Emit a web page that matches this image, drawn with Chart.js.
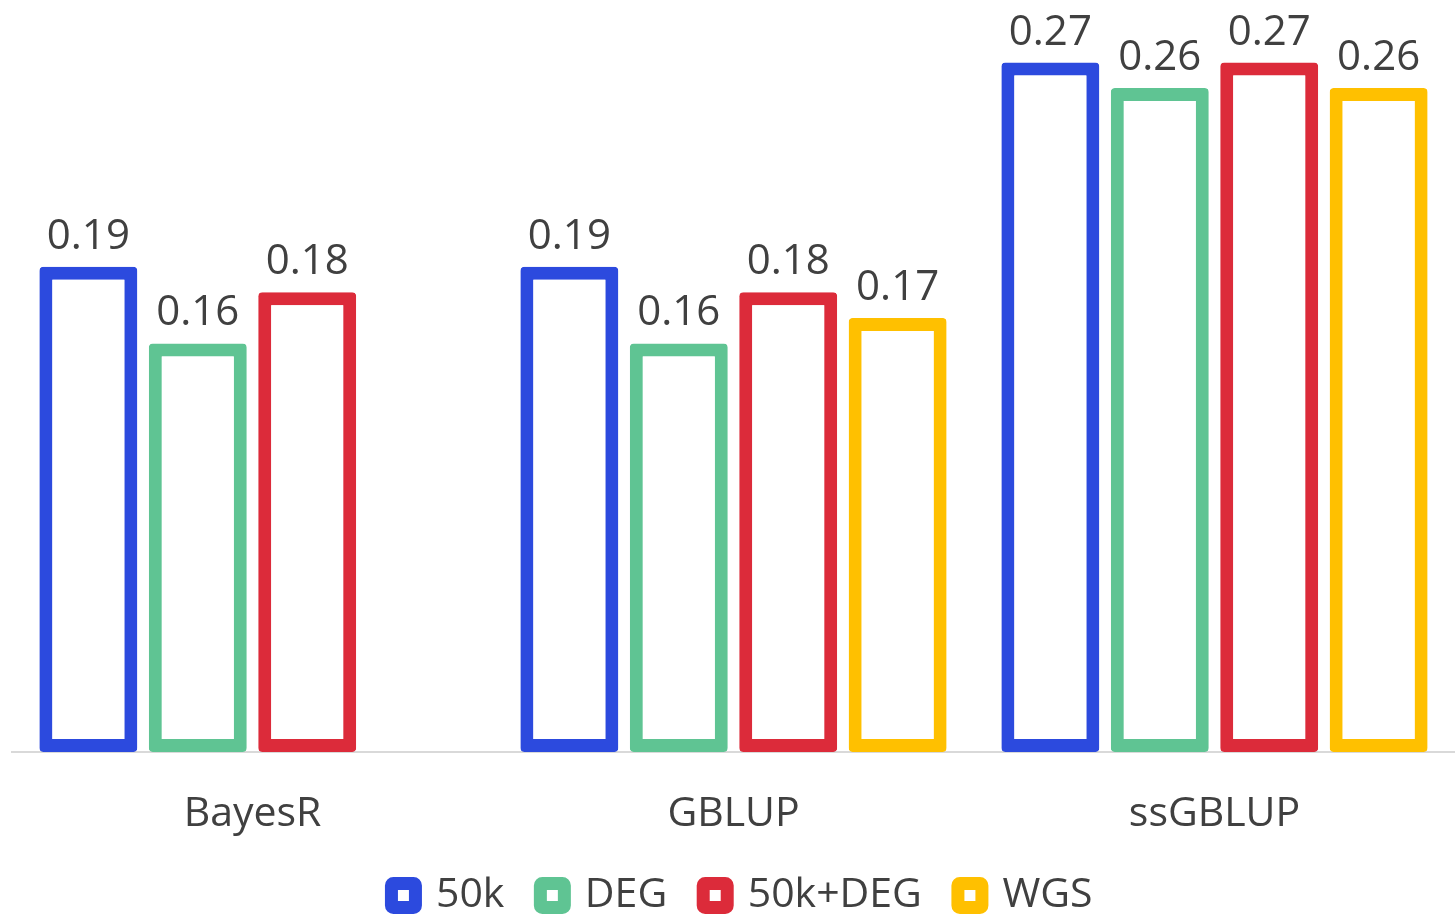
<!DOCTYPE html>
<html>
<head>
<meta charset="utf-8">
<script src="https://cdn.jsdelivr.net/npm/chart.js@4/dist/chart.umd.min.js"></script>
<style>
  html, body { margin: 0; padding: 0; background: #fff; overflow: hidden; }
  #wrap { width: 1455px; height: 914px; }
</style>
</head>
<body>
<div id="wrap"><canvas id="grafica"></canvas></div>
<script>
var categorias = ['BayesR', 'GBLUP', 'ssGBLUP'];
var serie50k = [0.19, 0.19, 0.27];
var serieDEG = [0.16, 0.16, 0.26];
var serie50kDEG = [0.18, 0.18, 0.27];
var serieWGS = [null, 0.17, 0.26];

var fuente = "'Open Sans', 'Noto Sans', sans-serif";
var gris = '#404040';
var altoLeyenda = 76;
var altoEjeX = 86;
var desplazaLeyenda = { x: 7, y: 1 };

// etiquetas encima de cada barra
var etiquetas = {
  id: 'etiquetas',
  afterDatasetsDraw: function (chart) {
    var ctx = chart.ctx;
    ctx.save();
    ctx.font = '42px ' + fuente;
    ctx.fillStyle = gris;
    ctx.textAlign = 'center';
    ctx.textBaseline = 'alphabetic';
    chart.data.datasets.forEach(function (ds, i) {
      var meta = chart.getDatasetMeta(i);
      meta.data.forEach(function (bar, j) {
        var v = ds.data[j];
        if (v === null) return;
        ctx.fillText(v.toFixed(2), bar.x, bar.y - 18);
      });
    });
    ctx.restore();
  }
};

// leyenda mas baja que la que calcula chart.js
var ajusteLeyenda = {
  id: 'ajusteLeyenda',
  beforeLayout: function (chart) {
    var leyenda = chart.legend;
    if (!leyenda || leyenda._ajustada) return;
    leyenda._ajustada = true;
    var fitOriginal = leyenda.fit;
    leyenda.fit = function () {
      fitOriginal.call(this);
      this.height = altoLeyenda;
    };
    var drawOriginal = leyenda.draw;
    leyenda.draw = function () {
      var c = this.ctx;
      c.save();
      c.translate(desplazaLeyenda.x, desplazaLeyenda.y);
      drawOriginal.apply(this, arguments);
      c.restore();
    };
  }
};

function serie(nombre, datos, colorBorde) {
  return {
    label: nombre,
    data: datos,
    backgroundColor: '#ffffff',
    borderColor: colorBorde,
    borderWidth: 13,
    borderSkipped: false,
    borderRadius: 4,
    categoryPercentage: 0.91,
    barPercentage: 0.895
  };
}

var ctx = document.getElementById('grafica').getContext('2d');
new Chart(ctx, {
  type: 'bar',
  data: {
    labels: categorias,
    datasets: [
      serie('50k', serie50k, '#2c4ade'),
      serie('DEG', serieDEG, '#5fc493'),
      serie('50k+DEG', serie50kDEG, '#dc2b3a'),
      serie('WGS', serieWGS, '#ffc000')
    ]
  },
  options: {
    responsive: true,
    maintainAspectRatio: false,
    animation: false,
    layout: { padding: { left: 12, right: -3, top: 37, bottom: 0 } },
    scales: {
      x: {
        grid: { display: false, drawTicks: false },
        border: { display: true, color: '#d9d9d9', width: 2 },
        ticks: { color: gris, font: { family: fuente, size: 41 }, padding: 38 },
        afterFit: function (escala) { escala.height = altoEjeX; }
      },
      y: {
        display: false,
        min: 0,
        max: 0.28
      }
    },
    plugins: {
      legend: {
        position: 'bottom',
        labels: {
          color: gris,
          font: { family: fuente, size: 41 },
          boxWidth: 24,
          boxHeight: 24,
          padding: 36,
          generateLabels: function (chart) {
            return chart.data.datasets.map(function (ds, i) {
              return {
                text: ds.label,
                fillStyle: '#ffffff',
                strokeStyle: ds.borderColor,
                lineWidth: 13,
                fontColor: gris,
                datasetIndex: i,
                borderRadius: 2
              };
            });
          }
        }
      },
      tooltip: { enabled: false }
    }
  },
  plugins: [etiquetas, ajusteLeyenda]
});
</script>
</body>
</html>
